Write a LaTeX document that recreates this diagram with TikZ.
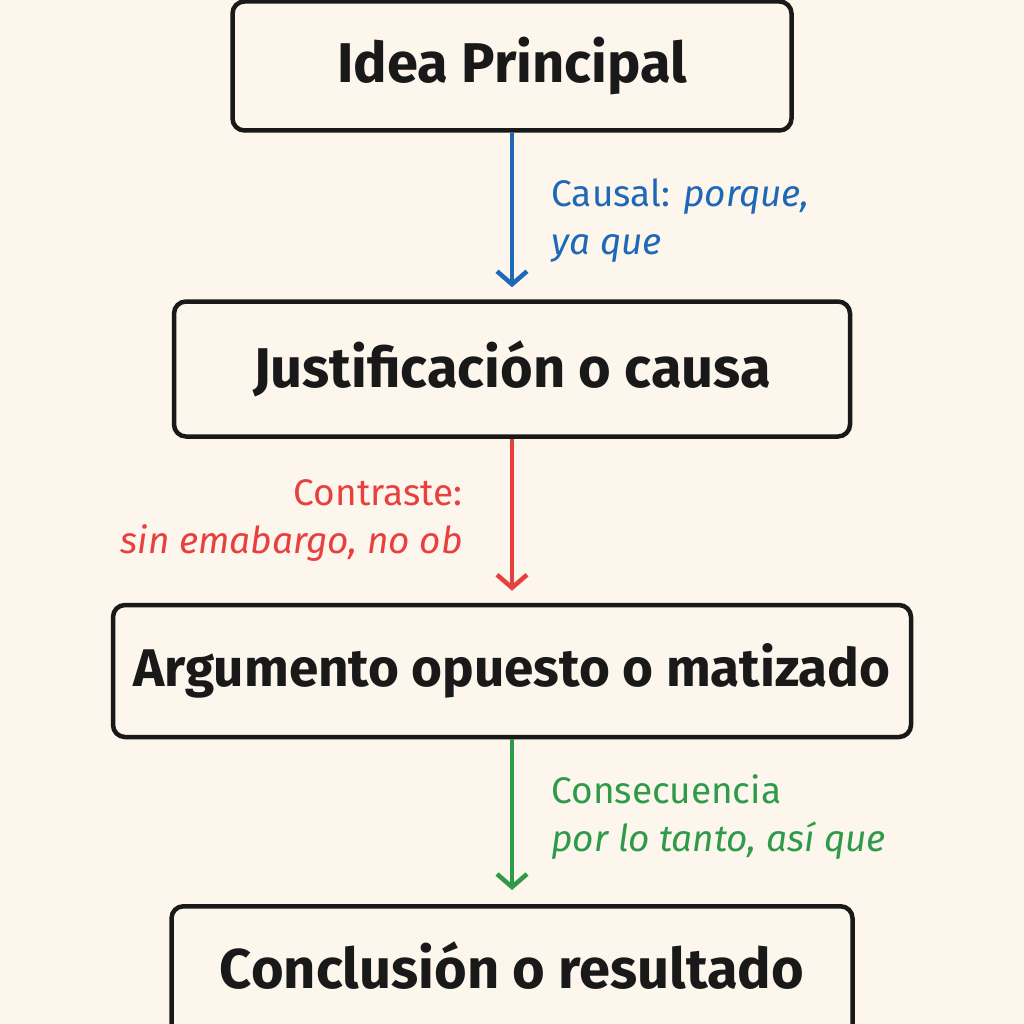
\documentclass[tikz,border=0pt]{standalone}
\usepackage{fontspec}
\setmainfont{Fira Sans}
\usetikzlibrary{arrows.meta}
\usetikzlibrary{positioning}
\definecolor{paper}{HTML}{FCF6EC}
\definecolor{causal}{HTML}{1F68B8}
\definecolor{contra}{HTML}{E8403F}
\definecolor{conseq}{HTML}{2E9A4A}

\begin{document}
\begin{tikzpicture}[
		x=1pt,y=-1pt,
		>={Straight Barb[length=13pt,width=30pt]},
		stepbox/.style={draw=black!90,line width=4.5pt,rounded corners=12pt,fill=paper,inner xsep=0pt,
			font=\fontsize{53}{62}\selectfont\bfseries,text=black!90},
		link/.style={->,line width=4.5pt},
		linklabel/.style={font=\fontsize{37}{48}\selectfont,align=left}
	]
	\fill [paper] (0,0) rectangle (1024,1024);
	\useasboundingbox (0,0) rectangle (1024,1024);

	\node [stepbox,minimum width=559pt,minimum height=129pt,font=\fontsize{56}{62}\selectfont\bfseries] (idea) at (512,66) {Idea Principal};
	\node [stepbox,minimum width=676pt,minimum height=135pt,font=\fontsize{56}{62}\selectfont\bfseries] (just) at (512,369) {Justificación o causa};
	\node [stepbox,minimum width=798pt,minimum height=132pt] (arg) at (512,671) {Argumento opuesto o matizado};
	\node [stepbox,minimum width=681pt,minimum height=140pt,anchor=north] (concl) at (512,904) {};
	\node [font=\fontsize{56}{62}\selectfont\bfseries,text=black!90] (concl-text) at (512,966) {Conclusión o resultado};

	\draw [link,causal] (idea.south) -- ([yshift=12pt]just.north);
	\draw [link,contra] (just.south) -- ([yshift=12pt]arg.north);
	\draw [link,conseq] (arg.south) -- ([yshift=14pt]concl.north);

	\node [linklabel,text=causal,anchor=west] (causal-lbl) at (548,221) {Causal: \textit{porque,}\\\textit{ya que}};
	\node [linklabel,text=contra,align=right,anchor=east] (contra-lbl) at (466,521) {Contraste:\\\textit{sin emabargo, no ob}};
	\node [linklabel,text=conseq,anchor=west] (conseq-lbl) at (548,817) {Consecuencia\\\textit{por lo tanto, así que}};
\end{tikzpicture}
\end{document}
